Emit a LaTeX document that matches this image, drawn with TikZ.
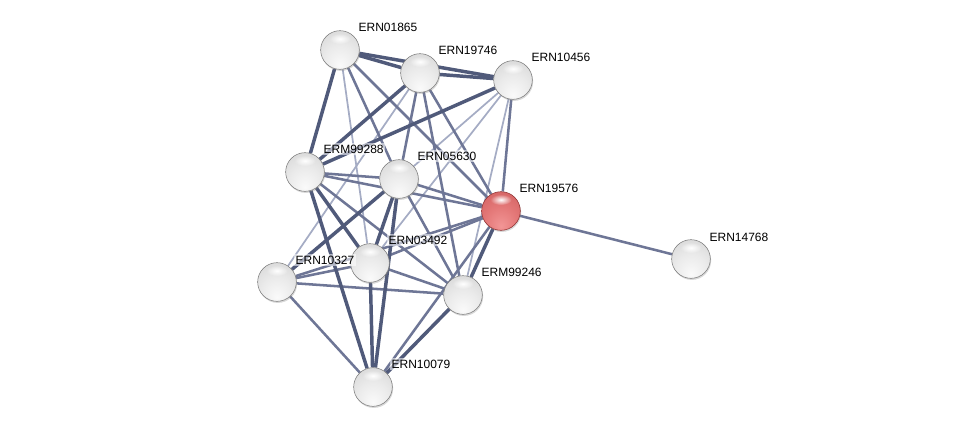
\documentclass[tikz,border=0pt]{standalone}
\usepackage{fontspec}
\setmainfont{Liberation Sans}
\usetikzlibrary{shadows,fadings,backgrounds}
\definecolor{estrong}{RGB}{80,90,122}
\definecolor{emid}{RGB}{110,118,150}
\definecolor{eweak}{RGB}{165,172,196}
\definecolor{rimgray}{RGB}{120,120,120}
\definecolor{rimred}{RGB}{140,45,45}
\definecolor{rbA}{RGB}{242,150,150}
\definecolor{rbB}{RGB}{228,120,120}
\definecolor{rbC}{RGB}{212,100,100}
\definecolor{rbD}{RGB}{192,78,78}
\definecolor{rbE}{RGB}{175,62,62}
\pgfdeclareradialshading{greyball}{\pgfpoint{0bp}{-20bp}}{color(0bp)=(gray!4); color(20bp)=(gray!16); color(38bp)=(gray!30); color(52bp)=(gray!50); color(70bp)=(gray!62)}
\pgfdeclareradialshading{redball}{\pgfpoint{0bp}{-20bp}}{color(0bp)=(rbA); color(20bp)=(rbB); color(38bp)=(rbC); color(52bp)=(rbD); color(70bp)=(rbE)}
\tikzfading[name=hlfade, inner color=transparent!0, outer color=transparent!100]
\begin{document}
\begin{tikzpicture}[x=0.75pt,y=-0.75pt,
  ballnode/.style={circle, minimum size=29pt, inner sep=0pt, draw=rimgray, line width=0.4pt, shading=greyball,
     drop shadow={shadow xshift=0.6pt, shadow yshift=-1.2pt, opacity=0.3}},
  rednode/.style={ballnode, shading=redball, draw=rimred},
  lbl/.style={anchor=west, font=\fontsize{9pt}{10pt}\selectfont, inner sep=1pt, fill=white, fill opacity=0.55, text opacity=1},
  sw/.style={estrong, line width=2.6pt},
  mw/.style={emid, line width=1.9pt},
  ww/.style={eweak, line width=1.3pt}]
\useasboundingbox (0,0) rectangle (975,430);
% nodes
\node[ballnode] (A) at (340,50) {};
\node[ballnode] (B) at (420,73) {};
\node[ballnode] (C) at (513,80) {};
\node[ballnode] (D) at (305,172) {};
\node[ballnode] (E) at (399,179) {};
\node[rednode]  (F) at (501,211) {};
\node[ballnode] (G) at (370,263) {};
\node[ballnode] (H) at (277,282) {};
\node[ballnode] (I) at (463,295) {};
\node[ballnode] (J) at (373,387) {};
\node[ballnode] (K) at (691,259) {};
% highlights
\foreach \n in {A,B,C,D,E,F,G,H,I,J,K}
  \fill[white, path fading=hlfade] ([yshift=8.5pt]\n.center) ellipse [x radius=8pt, y radius=4pt];
% labels
\node[lbl] (lA) at (357,27) {ERN01865};
\node[lbl] (lB) at (437,50) {ERN19746};
\node[lbl] (lC) at (530,57) {ERN10456};
\node[lbl] (lD) at (322,149) {ERM99288};
\node[lbl] (lE) at (416,156) {ERN05630};
\node[lbl] (lF) at (518,188) {ERN19576};
\node[lbl] (lG) at (387,240) {ERN03492};
\node[lbl] (lH) at (294,260) {ERN10327};
\node[lbl] (lI) at (480,272) {ERM99246};
\node[lbl] (lJ) at (390,364) {ERN10079};
\node[lbl] (lK) at (708,237) {ERN14768};
% edges
\begin{scope}[on background layer]
\draw[ww] (A) -- (G);
\draw[ww] (B) -- (H);
\draw[ww] (C) -- (E);
\draw[ww] (C) -- (G);
\draw[ww] (C) -- (I);
\draw[mw] (A) -- (E);
\draw[mw] (A) -- (F);
\draw[mw] (B) -- (E);
\draw[mw] (B) -- (F);
\draw[mw] (B) -- (I);
\draw[mw] (C) -- (F);
\draw[mw] (D) -- (E);
\draw[mw] (D) -- (F);
\draw[mw] (D) -- (I);
\draw[mw] (E) -- (F);
\draw[mw] (E) -- (I);
\draw[mw] (F) -- (G);
\draw[mw] (F) -- (H);
\draw[mw] (F) -- (J);
\draw[mw] (F) -- (K);
\draw[mw] (G) -- (H);
\draw[mw] (G) -- (I);
\draw[mw] (H) -- (I);
\draw[mw] (H) -- (J);
\draw[sw] (A) -- (B);
\draw[sw] (A) -- (C);
\draw[sw] (B) -- (C);
\draw[sw] (A) -- (D);
\draw[sw] (B) -- (D);
\draw[sw] (C) -- (D);
\draw[sw] (D) -- (G);
\draw[sw] (D) -- (J);
\draw[sw] (E) -- (G);
\draw[sw] (E) -- (H);
\draw[sw] (E) -- (J);
\draw[sw] (F) -- (I);
\draw[sw] (G) -- (J);
\draw[sw] (I) -- (J);
\end{scope}
\end{tikzpicture}
\end{document}
